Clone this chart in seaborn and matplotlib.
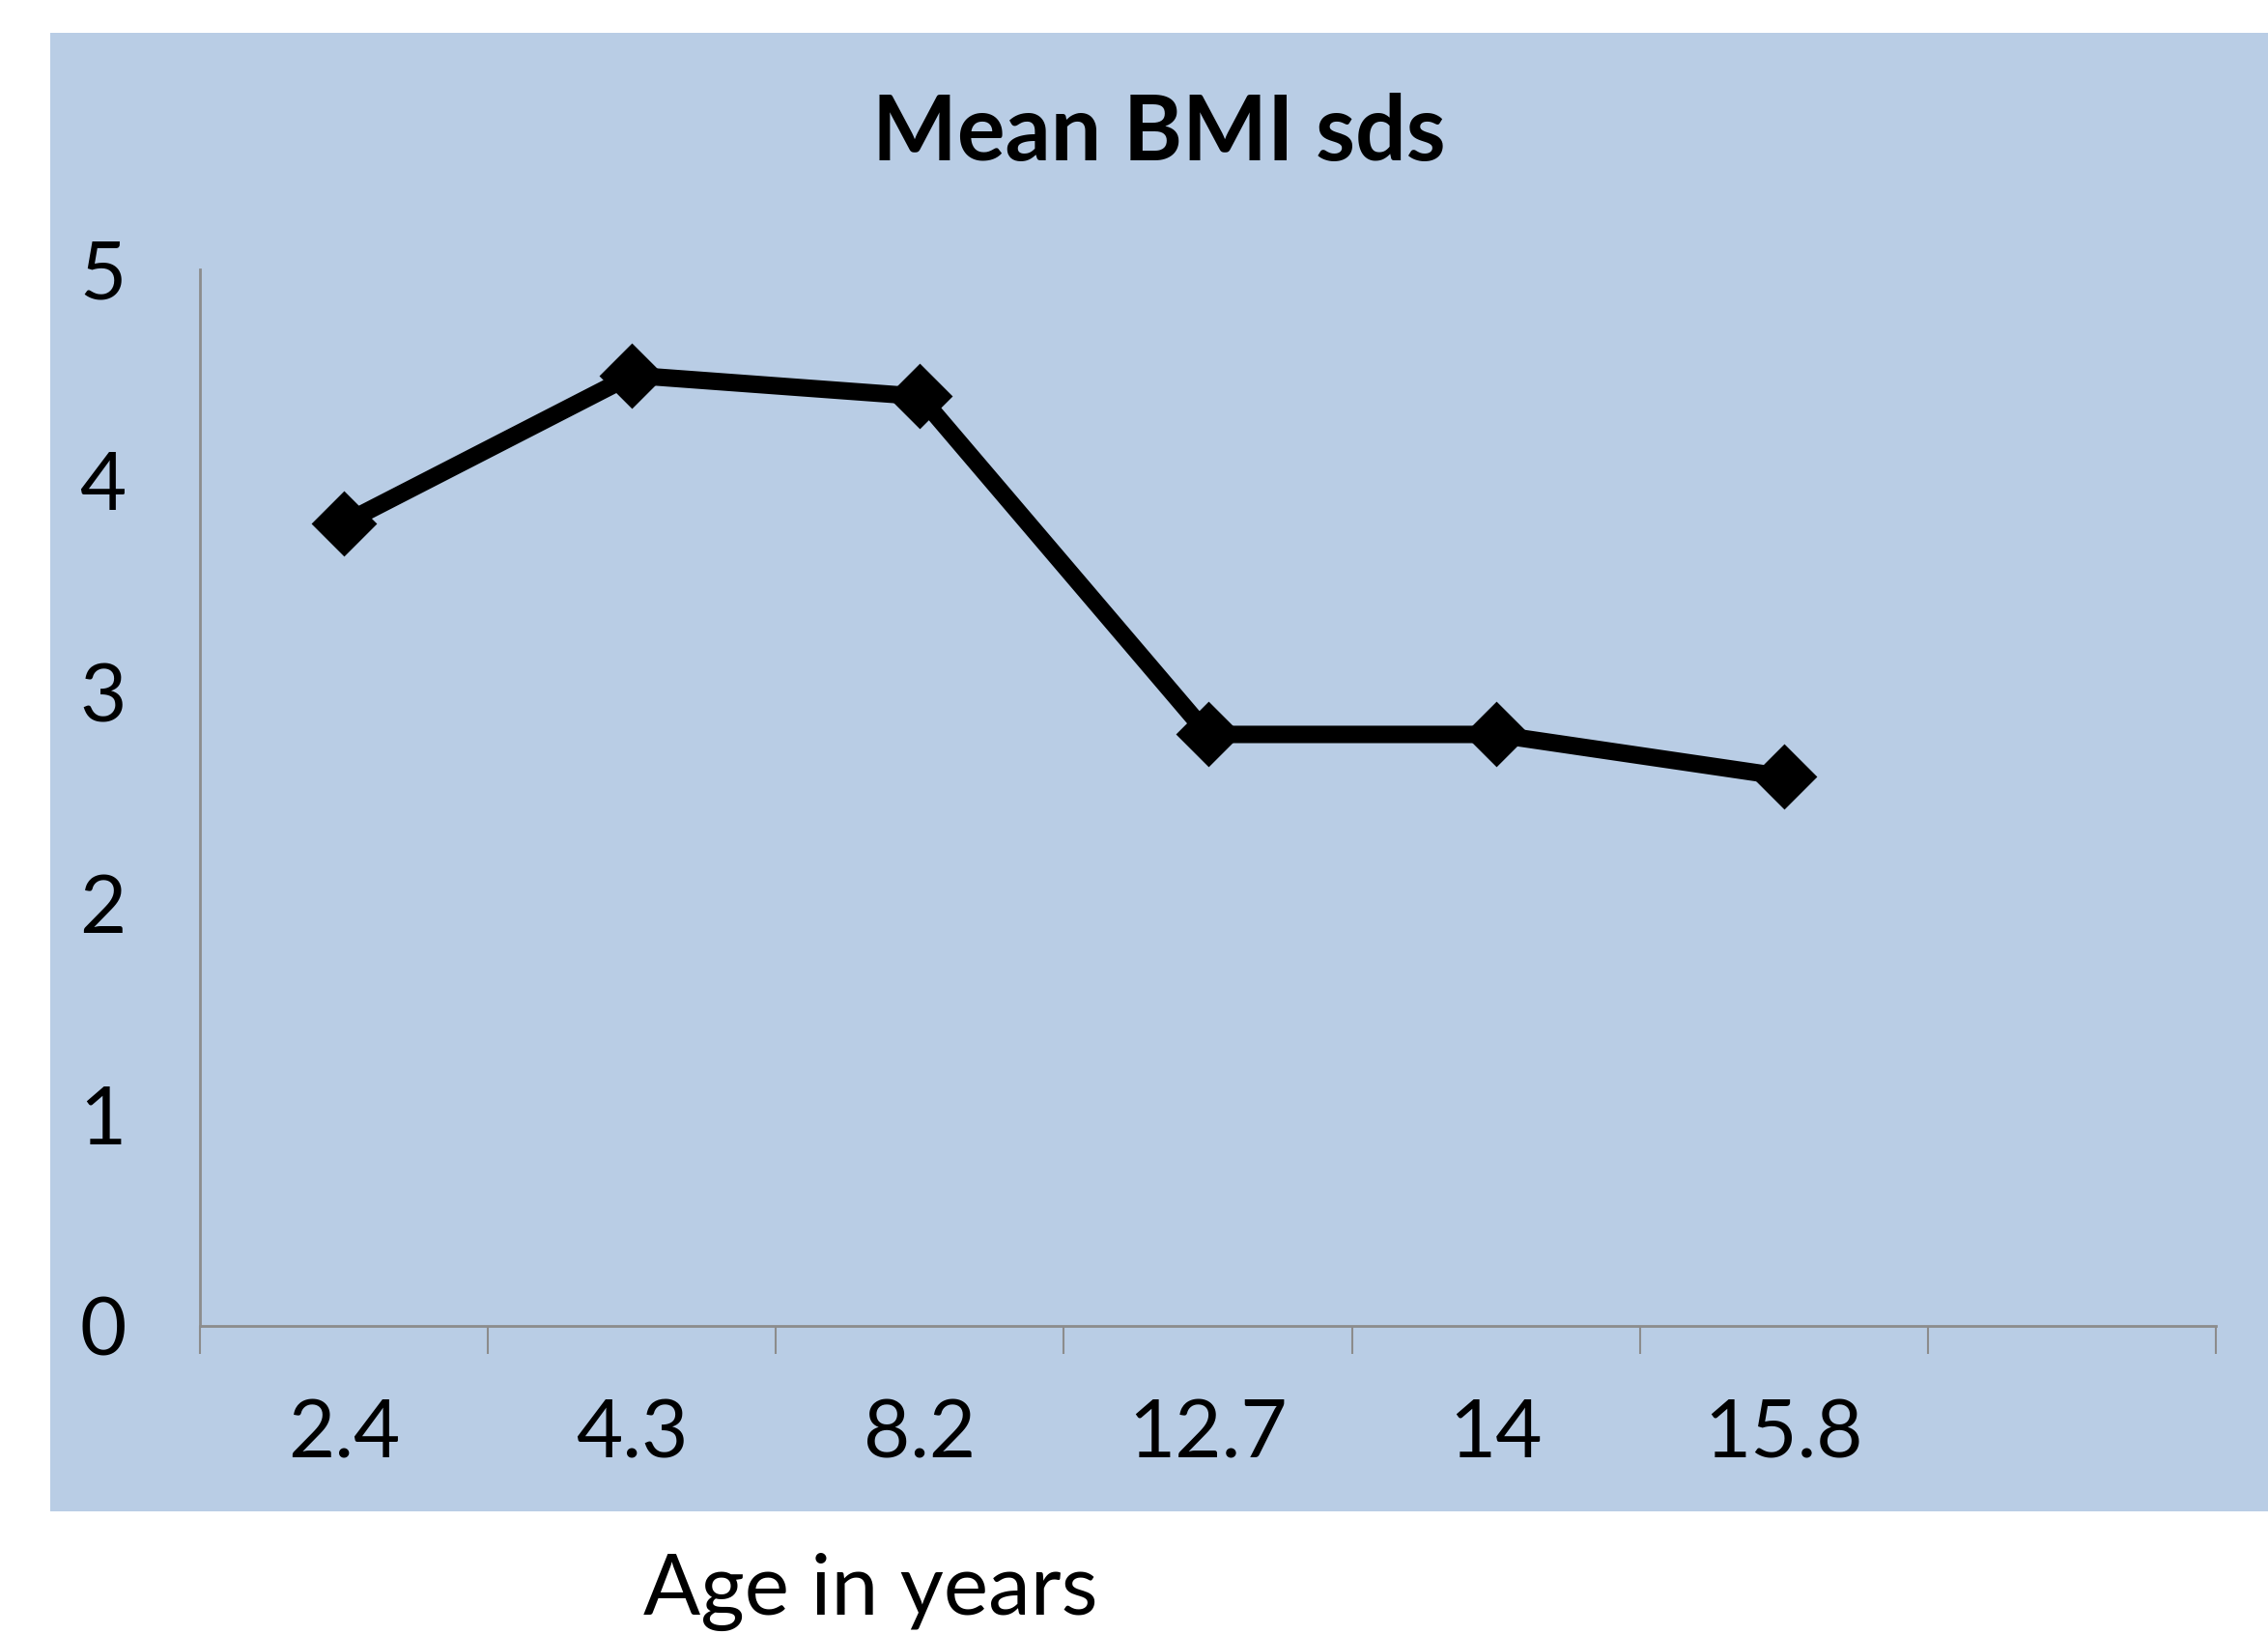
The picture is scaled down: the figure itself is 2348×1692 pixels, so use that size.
import matplotlib
matplotlib.use("Agg")
import matplotlib.pyplot as plt
from matplotlib.patches import Rectangle
from matplotlib.ticker import FixedLocator
import seaborn as sns

# data
ages = ["2.4", "4.3", "8.2", "12.7", "14", "15.8"]
bmi_sds = [3.8, 4.5, 4.4, 2.8, 2.8, 2.6]
y_ticks = [0, 1, 2, 3, 4, 5]

panel_blue = "#B9CDE5"
axis_grey = "#8C8C8C"

sns.set_style("white")
plt.rcParams["font.family"] = ["Lato", "DejaVu Sans"]
plt.rcParams["text.color"] = "black"

fig = plt.figure(figsize=(23.48, 16.92), dpi=100)
fig.patch.set_facecolor("white")

# blue chart area behind the plot
fig.patches.append(Rectangle((0.0222, 0.075), 0.978, 0.905, transform=fig.transFigure,
                             facecolor=panel_blue, edgecolor="none", zorder=-5))

ax = fig.add_axes([0.0882, 0.1885, 0.8888, 0.6465])
ax.set_facecolor(panel_blue)

sns.pointplot(x=ages, y=bmi_sds, order=ages, color="black", markers="D",
              linestyles="-", errorbar=None, linewidth=13, markersize=30,
              markeredgewidth=5, markeredgecolor="black", ax=ax)
for ln in ax.lines:
    ln.set_solid_joinstyle("round")
    ln.set_markeredgecolor("black")
    ln.set_markerfacecolor("black")

ax.set_xlim(-0.5, 6.5)
ax.set_ylim(0, 5)
ax.set_yticks(y_ticks)
ax.set_yticklabels([str(t) for t in y_ticks])

# category boundary ticks on the x axis
ax.xaxis.set_minor_locator(FixedLocator([i - 0.5 for i in range(8)]))
ax.tick_params(axis="x", which="major", length=0, pad=54, labelsize=60, labelcolor="black")
ax.tick_params(axis="x", which="minor", length=21, width=1.5, color=axis_grey, direction="out")
ax.tick_params(axis="y", length=19, width=1.5, color=axis_grey, pad=36, labelsize=60,
               labelcolor="black", direction="out")
ax.tick_params(axis="x", which="both", bottom=True)

for side in ["top", "right"]:
    ax.spines[side].set_visible(False)
for side in ["left", "bottom"]:
    ax.spines[side].set_color(axis_grey)
    ax.spines[side].set_linewidth(2)

ax.set_xlabel("")
ax.set_ylabel("")

fig.text(0.511, 0.918, "Mean BMI sds", ha="center", va="center",
         fontsize=67, fontweight="bold", color="black")
fig.text(0.384, 0.026, "Age in years", ha="center", va="center", fontsize=63,
         color="black")

fig.savefig("out.png", dpi=100, facecolor="white")
